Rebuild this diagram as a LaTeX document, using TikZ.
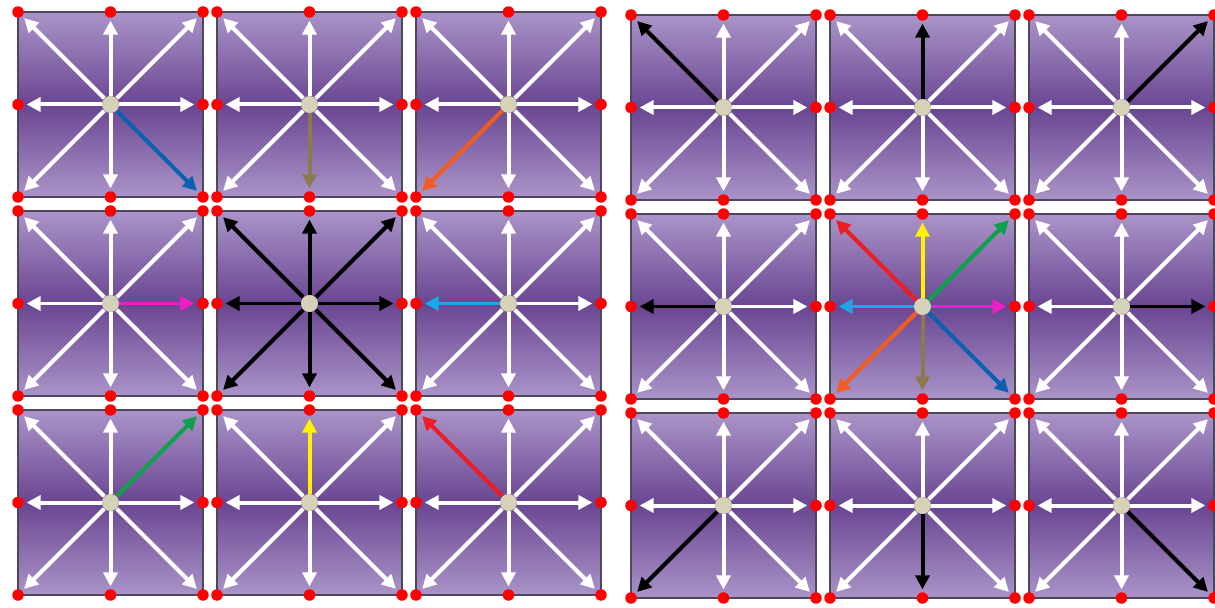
\documentclass[tikz,border=0pt]{standalone}
\usetikzlibrary{arrows.meta,calc}
\definecolor{cellLight}{RGB}{170,148,200}
\definecolor{cellDark}{RGB}{106,70,146}
\definecolor{cellEdge}{RGB}{78,70,92}
\definecolor{hubBeige}{RGB}{214,210,184}
\definecolor{flowBlue}{RGB}{12,96,176}
\definecolor{flowBrown}{RGB}{140,122,78}
\definecolor{flowOrange}{RGB}{242,92,34}
\definecolor{flowMagenta}{RGB}{236,30,196}
\definecolor{flowCyan}{RGB}{26,168,232}
\definecolor{flowGreen}{RGB}{14,160,76}
\definecolor{flowYellow}{RGB}{255,242,0}
\definecolor{flowRed}{RGB}{238,28,36}
% which link gets which colour (cell = grid, column, row)
\pgfkeys{/flow/.cd,
 L00se/.initial=flowBlue, L10s/.initial=flowBrown, L20sw/.initial=flowOrange,
 L01e/.initial=flowMagenta, L21w/.initial=flowCyan,
 L02ne/.initial=flowGreen, L12n/.initial=flowYellow, L22nw/.initial=flowRed,
 L11n/.initial=black, L11ne/.initial=black, L11e/.initial=black, L11se/.initial=black,
 L11s/.initial=black, L11sw/.initial=black, L11w/.initial=black, L11nw/.initial=black,
 R00nw/.initial=black, R10n/.initial=black, R20ne/.initial=black,
 R01w/.initial=black, R21e/.initial=black,
 R02sw/.initial=black, R12s/.initial=black, R22se/.initial=black,
 R11nw/.initial=flowRed, R11n/.initial=flowYellow, R11ne/.initial=flowGreen,
 R11w/.initial=flowCyan, R11e/.initial=flowMagenta,
 R11sw/.initial=flowOrange, R11s/.initial=flowBrown, R11se/.initial=flowBlue}
\begin{document}
\begin{tikzpicture}[x=0.02cm,y=-0.02cm,
 cellbox/.style={draw=cellEdge,line width=0.7pt,top color=cellLight,bottom color=cellLight,middle color=cellDark},
 site/.style={circle,fill=red,inner sep=0pt,minimum size=0.23cm},
 hub/.style={circle,fill=hubBeige,inner sep=0pt,minimum size=0.34cm},
 link/.style={-{Triangle[length=0.28cm,width=0.28cm]},line width=0.08cm,shorten >=0.05cm}]
 \useasboundingbox (0,0) rectangle (1215,608);
 \foreach \g/\gx/\gy in {L/18/12,R/631/15}
 \foreach \i in {0,1,2}
 \foreach \j in {0,1,2} {
   \pgfmathsetmacro\cx{\gx+199*\i}
   \pgfmathsetmacro\cy{\gy+199*\j}
   \shade[cellbox] (\cx,\cy) rectangle ++(185,185);
   \node[hub] (\g\i\j) at (\cx+92.5,\cy+92.5) {};
   \foreach \d/\dx/\dy in {n/0/-1,ne/1/-1,e/1/0,se/1/1,s/0/1,sw/-1/1,w/-1/0,nw/-1/-1}
     \node[site] (\g\i\j\d) at ($(\g\i\j)+(92.5*\dx,92.5*\dy)$) {};
   \foreach \d in {n,ne,e,se,s,sw,w,nw} {
     \pgfkeysifdefined{/flow/\g\i\j\d}
       {\edef\linkcol{\pgfkeysvalueof{/flow/\g\i\j\d}}}{\def\linkcol{white}}
     \draw[link,draw=\linkcol,fill=\linkcol] (\g\i\j) -- (\g\i\j\d);
   }
 }
\end{tikzpicture}
\end{document}
